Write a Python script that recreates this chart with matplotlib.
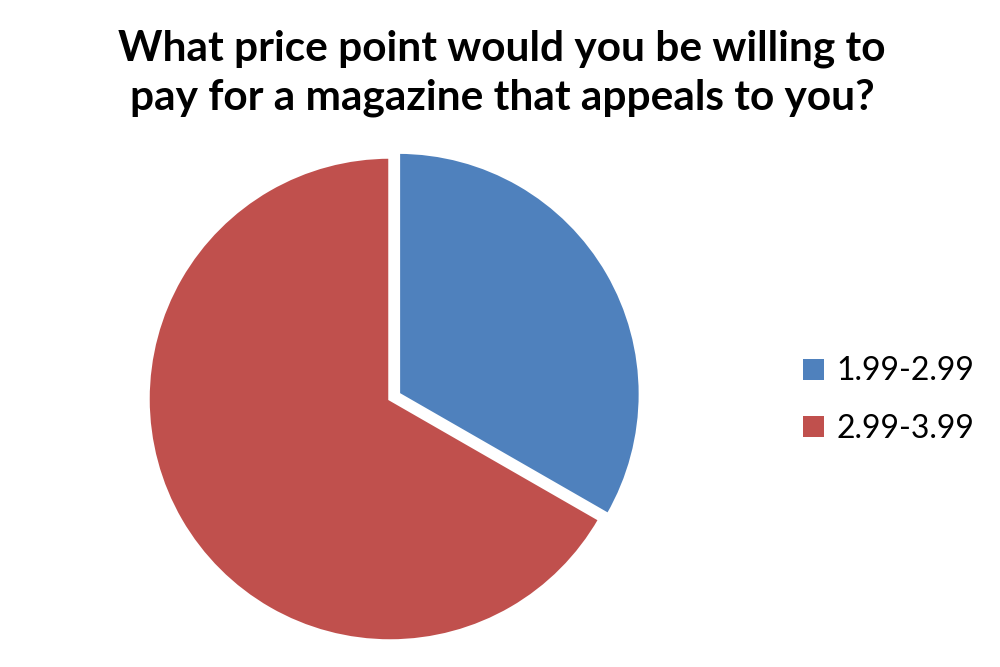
import matplotlib
matplotlib.use('Agg')
from matplotlib import pyplot as plt
from matplotlib.patches import Patch

# Survey answers
labels = ['1.99-2.99', '2.99-3.99']
shares = [33.3, 66.7]
colors = ['#4F81BD', '#C0504D']
title = 'What price point would you be willing to\npay for a magazine that appeals to you?'

plt.rcParams['font.family'] = ['Lato', 'DejaVu Sans']

fig = plt.figure(figsize=(10, 6.67), dpi=100)
fig.patch.set_facecolor('white')

# pie axes: centre ~ (390, 399) px, radius ~ 242 px
ax = fig.add_axes([(390 - 242) / 1000, 1 - (399 + 242) / 667, 484 / 1000, 484 / 667])
ax.pie(shares, colors=colors, startangle=90, counterclock=False,
       explode=[0.04, 0], radius=1,
       wedgeprops={'edgecolor': 'white', 'linewidth': 2.5})
ax.set_xlim(-1, 1)
ax.set_ylim(-1, 1)
ax.set_aspect('equal')
for p in ax.patches:
    p.set_clip_on(False)

fig.text(0.502, 1 - 73 / 667, title, ha='center', va='center',
         fontsize=30.5, fontweight='bold', linespacing=1.35)

handles = [Patch(facecolor=c, edgecolor='none') for c in colors]
fig.legend(handles, labels, loc='center left', bbox_to_anchor=(0.774, 1 - 400 / 667),
           frameon=False, fontsize=23, handlelength=0.65, handleheight=0.65,
           handletextpad=0.4, labelspacing=0.85)

fig.savefig('out.png', dpi=100)
